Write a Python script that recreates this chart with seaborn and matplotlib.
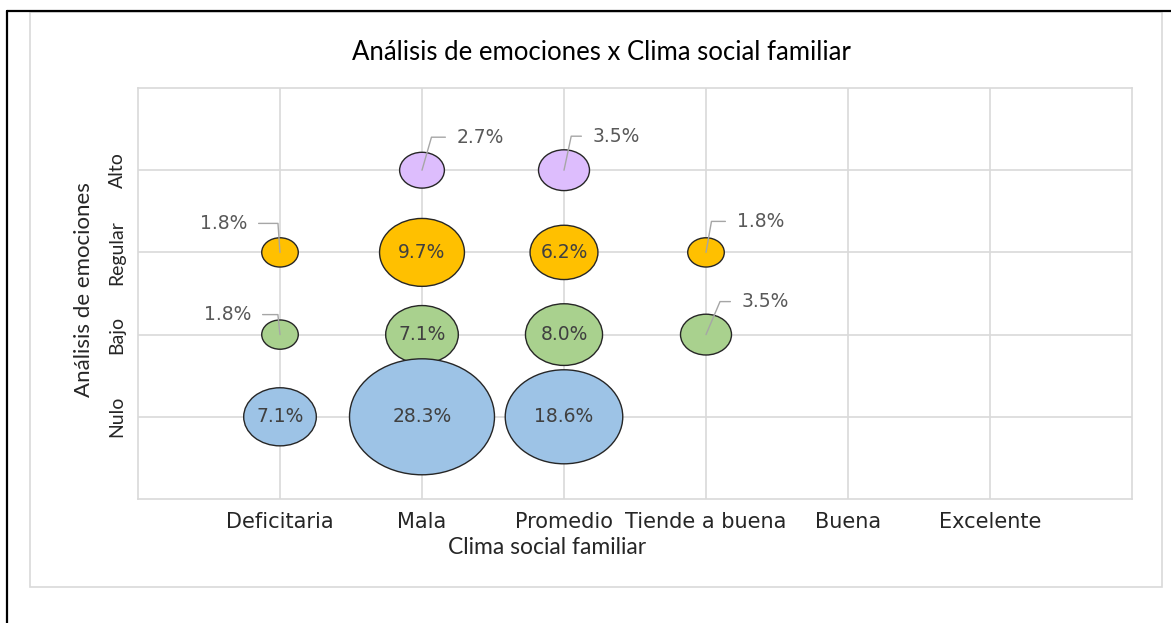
import numpy as np
import pandas as pd
import matplotlib
matplotlib.use("Agg")
import matplotlib.pyplot as plt
import seaborn as sns
from matplotlib.path import Path
from matplotlib.markers import MarkerStyle
from matplotlib.patches import Rectangle
from matplotlib.lines import Line2D

# ---------------- data ----------------
title = "Análisis de emociones x Clima social familiar"
x_categories = ["Deficitaria", "Mala", "Promedio", "Tiende a buena", "Buena", "Excelente"]
y_categories = ["Nulo", "Bajo", "Regular", "Alto"]
x_label = "Clima social familiar"
y_label = "Análisis de emociones"

# percentages per emotion level, aligned with x_categories (None = no bubble)
alto = [None, 2.7, 3.5, None, None, None]
regular = [1.8, 9.7, 6.2, 1.8, None, None]
bajo = [1.8, 7.1, 8.0, 3.5, None, None]
nulo = [7.1, 28.3, 18.6, None, None, None]

# ---------------- style ----------------
series = {"Alto": alto, "Regular": regular, "Bajo": bajo, "Nulo": nulo}  # draw order
colors = {"Nulo": "#9DC3E6", "Bajo": "#A9D18E", "Regular": "#FFC000", "Alto": "#DDBDFD"}
# outside labels: (dx px, dy px, leader angle)
outside = {
    ("Deficitaria", "Regular"): (-33, 29, 94),
    ("Deficitaria", "Bajo"): (-29, 20, 96),
    ("Mala", "Alto"): (35, 33, 74),
    ("Promedio", "Alto"): (29, 34, 78),
    ("Tiende a buena", "Regular"): (31, 31, 80),
    ("Tiende a buena", "Bajo"): (36, 33, 67),
}
grid_c = "#D9D9D9"
calib = ["Lato", "DejaVu Sans"]
verd = ["DejaVu Sans"]

rows = []
for level, vals in series.items():
    for i, v in enumerate(vals):
        if v is not None:
            rows.append({"x": i + 1, "y": y_categories.index(level) + 1,
                         "value": v, "level": level, "clima": x_categories[i]})
df = pd.DataFrame(rows)

sns.set_style("white")
fig = plt.figure(figsize=(11.71, 6.23), dpi=100)
ax = fig.add_axes([138 / 1171, 1 - 499 / 623, 994 / 1171, 411 / 623])

circ = Path.unit_circle()
ell = Path(circ.vertices * np.array([1.25, 1.0]), circ.codes)
marker = MarkerStyle(ell)

k = 385.0
sns.scatterplot(data=df, x="x", y="y", hue="level", palette=colors,
                size="value", sizes=(k * df.value.min(), k * df.value.max()),
                size_norm=(df.value.min(), df.value.max()),
                marker=marker, edgecolor="#262626", linewidth=1.0,
                legend=False, ax=ax, zorder=3)

ax.set_xlim(0, len(x_categories) + 1)
ax.set_ylim(0, len(y_categories) + 1)
ax.set_xticks(range(1, len(x_categories) + 1))
ax.set_xticklabels(x_categories, family=verd, fontsize=15, color="#262626")
ax.set_yticks(range(1, len(y_categories) + 1))
ax.set_yticklabels(y_categories, family=calib, fontsize=14, color="#262626",
                   rotation=90, va="center")
ax.tick_params(axis="both", length=0)
ax.tick_params(axis="x", pad=9)
ax.tick_params(axis="y", pad=9)
ax.grid(True, color=grid_c, lw=1.2, zorder=0)
ax.set_axisbelow(True)
for s in ax.spines.values():
    s.set_color(grid_c)
    s.set_linewidth(1.2)

ax.set_xlabel(x_label, family=calib, fontsize=16.5, color="#262626")
ax.xaxis.set_label_coords((547 - 138) / 994, -(548 - 499) / 411)
ax.xaxis.label.set_va("center")
ax.set_ylabel(y_label, family=calib, fontsize=16, color="#262626")
ax.yaxis.set_label_coords((84 - 138) / 994, (499 - 290) / 411)
ax.yaxis.label.set_va("center")

for _, r in df.iterrows():
    txt = f"{r['value']:.1f}%"
    key = (r["clima"], r["level"])
    if key in outside:
        dx, dy, ang = outside[key]
        left = dx > 0
        ax.annotate(txt, xy=(r["x"], r["y"]), xytext=(dx, dy), textcoords="offset pixels",
                    ha="left" if left else "right", va="center",
                    family=verd, fontsize=13.5, color="#595959", zorder=5,
                    arrowprops=dict(arrowstyle="-", color="#A6A6A6", lw=1.0,
                                    shrinkA=6, shrinkB=0,
                                    relpos=(0 if left else 1, 0.5),
                                    connectionstyle=f"angle,angleA=0,angleB={ang},rad=0"))
    else:
        ax.text(r["x"], r["y"], txt, ha="center", va="center", family=verd,
                fontsize=13.5, color="#404040", zorder=5)

fig.text(601 / 1171, 1 - 53 / 623, title, ha="center", va="center",
         family=calib, fontsize=18.5, color="#000000")

# chart frame and outer border
fig.add_artist(Rectangle((30 / 1171, 1 - 587 / 623), 1132 / 1171, 575 / 623,
                         transform=fig.transFigure, fill=False, ec=grid_c, lw=1.2))
fig.add_artist(Line2D([7 / 1171, 1], [1 - 11 / 623, 1 - 11 / 623],
                      transform=fig.transFigure, color="black", lw=1.6))
fig.add_artist(Line2D([7 / 1171, 7 / 1171], [0, 1 - 11 / 623],
                      transform=fig.transFigure, color="black", lw=1.6))

fig.savefig("out.png", dpi=100)
